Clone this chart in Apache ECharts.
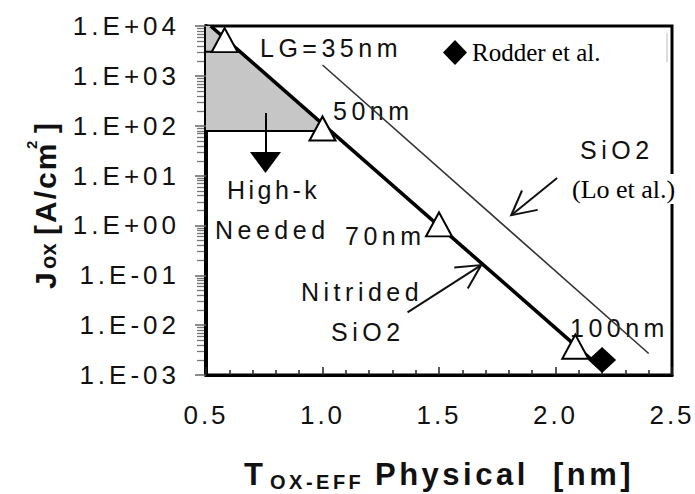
<!DOCTYPE html>
<html>
<head>
<meta charset="utf-8">
<script src="https://cdn.jsdelivr.net/npm/echarts@6/dist/echarts.min.js"></script>
<style>
html,body{margin:0;padding:0;background:#fff;}
#c{width:695px;height:494px;}
#c text[style*="trkA"], #c text[font-family*="trkA"]{letter-spacing:4px;}
#c text[style*="trkX"], #c text[font-family*="trkX"]{letter-spacing:3px;}
#c text[style*="trkB"], #c text[font-family*="trkB"]{letter-spacing:4.5px;}
#c text[style*="trkC"], #c text[font-family*="trkC"]{letter-spacing:3.5px;}
#c text[style*="trkD"], #c text[font-family*="trkD"]{letter-spacing:2px;}
</style>
</head>
<body>
<div id="c"></div>
<script>
// ---- data ----
const xTickLabels = ['0.5', '1.0', '1.5', '2.0', '2.5'];
const yTickLabels = ['1.E-03', '1.E-02', '1.E-01', '1.E+00', '1.E+01', '1.E+02', '1.E+03', '1.E+04'];
const nitridedX = [0.52, 2.18];
const nitridedY = [10000, 0.0016];
const loX = [1.0, 2.4];
const loY = [1650, 0.0027];
const nodeNames = ['35nm', '50nm', '70nm', '100nm'];
const nodeX = [0.58, 1.0, 1.5, 2.085];
const nodeY = [5200, 88, 1.05, 0.0037];
const rodderX = [2.2];
const rodderY = [0.0020];
const shadeX = [0.5, 0.52, 1.034, 0.5];
const shadeY = [10000, 10000, 78, 78];
const bracketTopX = [0.5, 0.646];
const bracketTopY = [3060, 3060];
const bracketBotX = [0.5, 1.034];
const bracketBotY = [78, 78];
// annotation arrows (data coordinates: tail, tip)
const arrowNitridedX = [1.365, 1.681];
const arrowNitridedY = [0.018, 0.16];
const arrowLoX = [2.007, 1.81];
const arrowLoY = [8.9, 1.6];

// log minor tick positions (2..9 per decade)
const minorTickVals = [];
for (let e = -3; e < 4; e++) { for (let m = 2; m <= 9; m++) minorTickVals.push(m * Math.pow(10, e)); }

const zip = (xs, ys) => xs.map((x, i) => [x, ys[i]]);
const SANS = "'Liberation Sans', Arial";
const SERIF = "'Liberation Serif', 'Times New Roman'";

const chart = echarts.init(document.getElementById('c'), null, { renderer: 'svg' });

const option = {
  animation: false,
  backgroundColor: '#fff',
  grid: { left: 206, right: 23, top: 26, bottom: 119, show: true, borderColor: '#000', borderWidth: 3, backgroundColor: 'transparent' },
  legend: {
    data: ['Rodder et al.'], left: 443, top: 40, icon: 'diamond', itemWidth: 24, itemHeight: 25,
    selectedMode: false, padding: 0,
    textStyle: { fontFamily: SERIF, fontSize: 25, color: '#000' }
  },
  xAxis: {
    type: 'value', min: 0.5, max: 2.5, interval: 0.5,
    axisLine: { show: true, onZero: false, lineStyle: { color: '#000', width: 3 } },
    axisTick: { show: true, inside: true, length: 8, lineStyle: { color: '#222', width: 1.5 } },
    minorTick: { show: true, splitNumber: 5, length: 5, lineStyle: { color: '#222', width: 1.5 } },
    splitLine: { show: false }, minorSplitLine: { show: false },
    axisLabel: { margin: 27, fontSize: 26, fontFamily: SANS + ', trkX', color: '#111',
      formatter: (v, i) => xTickLabels[i] }
  },
  yAxis: {
    type: 'log', logBase: 10, min: 0.001, max: 10000, interval: 1,
    axisLine: { show: true, onZero: false, lineStyle: { color: '#000', width: 4 } },
    axisTick: { show: true, inside: false, length: 11, lineStyle: { color: '#666', width: 1.5 } },
    splitLine: { show: false },
    axisLabel: { margin: 26, fontSize: 26, fontFamily: SANS + ', trkA', color: '#111',
      formatter: v => yTickLabels[Math.round(Math.log10(v)) + 3] }
  },
  series: [
    {
      type: 'custom', name: 'shade', silent: true, z: 1, data: [[0.5, 1]],
      renderItem: (p, api) => ({ type: 'polygon',
        shape: { points: shadeX.map((x, i) => api.coord([x, shadeY[i]])) },
        style: { fill: '#c6c6c6' } })
    },
    { type: 'line', name: 'bracketTop', data: zip(bracketTopX, bracketTopY), symbol: 'none', silent: true, z: 3,
      lineStyle: { color: '#000', width: 2 } },
    { type: 'line', name: 'bracketBot', data: zip(bracketBotX, bracketBotY), symbol: 'none', silent: true, z: 3,
      lineStyle: { color: '#000', width: 2 } },
    { type: 'line', name: 'SiO2 (Lo et al.)', data: zip(loX, loY), symbol: 'none', silent: true, z: 4,
      lineStyle: { color: '#333', width: 1.6 } },
    { type: 'line', name: 'Nitrided SiO2', data: zip(nitridedX, nitridedY), symbol: 'none', silent: true, z: 4,
      lineStyle: { color: '#000', width: 3.6 } },
    { type: 'scatter', name: 'nodes', data: zip(nodeX, nodeY), symbol: 'triangle', symbolSize: [26, 24], z: 5,
      itemStyle: { color: '#fff', borderColor: '#000', borderWidth: 2, opacity: 1 } },
    { type: 'scatter', name: 'Rodder et al.', data: zip(rodderX, rodderY), symbol: 'diamond', symbolSize: [28, 26], z: 6,
      itemStyle: { color: '#000', opacity: 1 } }
  ]
};
chart.setOption(option);

function arrowV(tail, tip, arm, ang) {
  const a = Math.atan2(tail[1] - tip[1], tail[0] - tip[0]);
  const p1 = [tip[0] + arm * Math.cos(a + ang), tip[1] + arm * Math.sin(a + ang)];
  const p2 = [tip[0] + arm * Math.cos(a - ang), tip[1] + arm * Math.sin(a - ang)];
  return [
    { type: 'line', z: 10, shape: { x1: tail[0], y1: tail[1], x2: tip[0], y2: tip[1] }, style: { stroke: '#111', lineWidth: 2 } },
    { type: 'polyline', z: 10, shape: { points: [p1, tip, p2] }, style: { stroke: '#111', lineWidth: 2, fill: null } }
  ];
}
const P = (x, y) => chart.convertToPixel({ gridIndex: 0 }, [x, y]);
const ann = (text, x, y, extra) => Object.assign({ type: 'text', x: x, y: y, z: 1,
  style: Object.assign({ text: text, fontFamily: SANS + ', trkB', fontSize: 25, fill: '#111', align: 'left', verticalAlign: 'middle' }, extra || {}) });

const g = [];
// log minor ticks on the y axis (outside, grey)
minorTickVals.forEach(v => { const c = P(0.5, v);
  g.push({ type: 'line', z: 3, silent: true, shape: { x1: c[0] - 9, y1: Math.round(c[1]) + 0.5, x2: c[0] - 2, y2: Math.round(c[1]) + 0.5 }, style: { stroke: '#777', lineWidth: 1.3 } }); });
// annotations
g.push(ann('LG=35nm', 260, 48));
g.push(ann('50nm', 333, 111));
g.push(ann('High-k', 227, 190, { fontFamily: SANS + ', trkC' }));
g.push(ann('Needed', 215, 230));
g.push(ann('70nm', 345, 236));
g.push(ann('Nitrided', 301, 292));
g.push(ann('SiO2', 331, 332));
g.push(ann('SiO2', 580, 150));
g.push(ann('100nm', 570, 328));
g.push({ type: 'text', x: 572, y: 189, z: 8,
  style: { text: '(Lo et al.)', fontFamily: SERIF, fontSize: 26, fill: '#000', align: 'left', verticalAlign: 'middle',
    backgroundColor: '#fff', padding: [2, 0, 2, 0] } });
// arrows
arrowV(P(arrowNitridedX[0], arrowNitridedY[0]), P(arrowNitridedX[1], arrowNitridedY[1]), 27, 0.48).forEach(e => g.push(e));
arrowV(P(arrowLoX[0], arrowLoY[0]), P(arrowLoX[1], arrowLoY[1]), 27, 0.48).forEach(e => g.push(e));
// High-k down arrow
g.push({ type: 'line', z: 10, shape: { x1: 266, y1: 113, x2: 266, y2: 155 }, style: { stroke: '#000', lineWidth: 2 } });
g.push({ type: 'polygon', z: 10, shape: { points: [[250, 152], [281, 152], [265.5, 173]] }, style: { fill: '#000' } });
// stray mark near right border
g.push({ type: 'line', z: 2, shape: { x1: 667, y1: 33, x2: 667, y2: 62 }, style: { stroke: '#bbb', lineWidth: 1 } });
// x axis title
g.push({ type: 'text', x: 244, y: 474, style: { text: 'T', fontFamily: SANS, fontWeight: 'bold', fontSize: 31, fill: '#111', align: 'left', verticalAlign: 'middle' } });
g.push({ type: 'text', x: 270, y: 482, style: { text: 'OX-EFF', fontFamily: SANS + ', trkC', fontWeight: 'bold', fontSize: 20, fill: '#111', align: 'left', verticalAlign: 'middle' } });
g.push({ type: 'text', x: 375, y: 474, style: { text: 'Physical  [nm]', fontFamily: SANS + ', trkC', fontWeight: 'bold', fontSize: 31, fill: '#111', align: 'left', verticalAlign: 'middle' } });
// y axis title (rotated)
const R = Math.PI / 2;
g.push({ type: 'text', x: 45.5, y: 289, rotation: R, style: { text: 'J', fontFamily: SANS, fontWeight: 'bold', fontSize: 30, fill: '#111', align: 'left', verticalAlign: 'middle' } });
g.push({ type: 'text', x: 48, y: 269, rotation: R, style: { text: 'ox', fontFamily: SANS, fontWeight: 'bold', fontSize: 22, fill: '#111', align: 'left', verticalAlign: 'middle' } });
g.push({ type: 'text', x: 45.5, y: 235, rotation: R, style: { text: '[A/cm', fontFamily: SANS + ', trkD', fontWeight: 'bold', fontSize: 30, fill: '#111', align: 'left', verticalAlign: 'middle' } });
g.push({ type: 'text', x: 31, y: 149, rotation: R, style: { text: '2', fontFamily: SANS, fontWeight: 'bold', fontSize: 15, fill: '#111', align: 'left', verticalAlign: 'middle' } });
g.push({ type: 'text', x: 45.5, y: 133, rotation: R, style: { text: ']', fontFamily: SANS, fontWeight: 'bold', fontSize: 30, fill: '#111', align: 'left', verticalAlign: 'middle' } });

chart.setOption({ graphic: g });
</script>
</body>
</html>
